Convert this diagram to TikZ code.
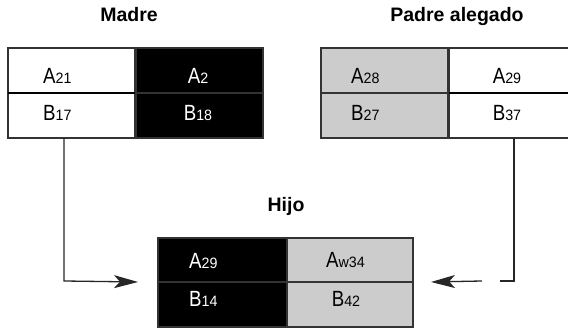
\documentclass[tikz,border=0pt]{standalone}
\usepackage{fontspec}
\setmainfont{Liberation Sans}
\newfontfamily\labfont[FakeStretch=0.85]{Liberation Sans}
\newfontfamily\idxfont[FakeStretch=0.95]{Liberation Sans}
\usetikzlibrary{arrows.meta}
\definecolor{cellgray}{HTML}{CCCCCC}
\definecolor{edge}{HTML}{333333}
% gene label: large letter(s) followed by a smaller index
\newcommand\genelab[2]{{\labfont\fontsize{22}{22}\selectfont #1}{\idxfont\fontsize{15}{15}\selectfont #2}}
\tikzset{
  cell/.style={draw=edge, line width=1.3pt, minimum width=#1, minimum height=45pt,
               inner sep=0pt, outer sep=0pt},
  cell/.default=127pt,
  whitecell/.style={cell=#1, fill=white},
  whitecell/.default=127pt,
  blackcell/.style={cell=#1, fill=black},
  blackcell/.default=127pt,
  graycell/.style={cell=#1, fill=cellgray},
  graycell/.default=127pt,
  lab/.style={inner sep=0pt, anchor=base},
  lablft/.style={inner sep=0pt, anchor=base west},
  title/.style={inner sep=0pt, anchor=base, font=\fontsize{19.5}{19.5}\selectfont\bfseries},
  conn/.style={draw=black!85, line width=1.3pt},
  arr/.style={conn, -{Stealth[length=24pt, width=13pt, inset=6pt]}}
}
\begin{document}
\begin{tikzpicture}[x=1pt, y=-1pt]
\useasboundingbox[fill=white] (0,0) rectangle (568,328);

% Madre
\node[title] (tmadre) at (129,22) {Madre};
\node[whitecell]  (ma1) at (71.5,70.5)  {};
\node[blackcell]  (ma2) at (199.5,70.5) {};
\node[whitecell]  (mb1) at (71.5,115.5) {};
\node[blackcell]  (mb2) at (199.5,115.5) {};
\draw[black, line width=1.8pt] (mb1.north west) -- (mb1.north east);
\node[lablft] (la21) at (43,84)  {\genelab{A}{21}};
\node[lablft] (lb17) at (43,121) {\genelab{B}{17}};
\node[lab, text=white] (la2)  at (198,84)  {\genelab{A}{2}};
\node[lab, text=white] (lb18) at (198,121) {\genelab{B}{18}};

% Padre alegado
\node[title] (tpadre) at (457,22) {Padre alegado};
\node[graycell]  (pa1) at (384.5,70.5)  {};
\node[whitecell=129pt] (pa2) at (513.5,70.5) {};
\node[graycell]  (pb1) at (384.5,115.5) {};
\node[whitecell=129pt] (pb2) at (513.5,115.5) {};
\draw[black, line width=1.8pt] (pb2.north west) -- (pb2.north east);
\node[lablft] (la28) at (351,84)  {\genelab{A}{28}};
\node[lablft] (lb27) at (351,121) {\genelab{B}{27}};
\node[lab] (la29p) at (507,84)  {\genelab{A}{29}};
\node[lab] (lb37)  at (507,121) {\genelab{B}{37}};

% Hijo
\node[title] (thijo) at (286,212) {Hijo};
\node[blackcell=129pt, minimum height=44pt] (ha1) at (222.5,260) {};
\node[graycell=126pt,  minimum height=44pt] (ha2) at (350,260)   {};
\node[blackcell=129pt, minimum height=45pt] (hb1) at (222.5,304.5) {};
\node[graycell=126pt,  minimum height=45pt] (hb2) at (350,304.5)   {};
\node[lablft, text=white] (la29h) at (189,269) {\genelab{A}{29}};
\node[lablft, text=white] (lb14)  at (189,307) {\genelab{B}{14}};
\node[lab] (law34) at (345.5,268) {\genelab{A}{w34}};
\node[lab] (lb42)  at (346,307)   {\genelab{B}{42}};

% inheritance connectors
\coordinate (lturn) at (64,281);
\coordinate (rturn) at (514,281);
\coordinate (rgapa) at (500,281);
\coordinate (rgapb) at (482,281);
\draw[arr] (mb1.south -| lturn) -- (lturn) -- ([xshift=-20pt]ha1.south west);
\draw[conn] (pb2.south -| rturn) -- (rturn) -- (rgapa);
\draw[arr] (rgapb) -- ([xshift=18pt]ha2.south east);
\end{tikzpicture}
\end{document}
